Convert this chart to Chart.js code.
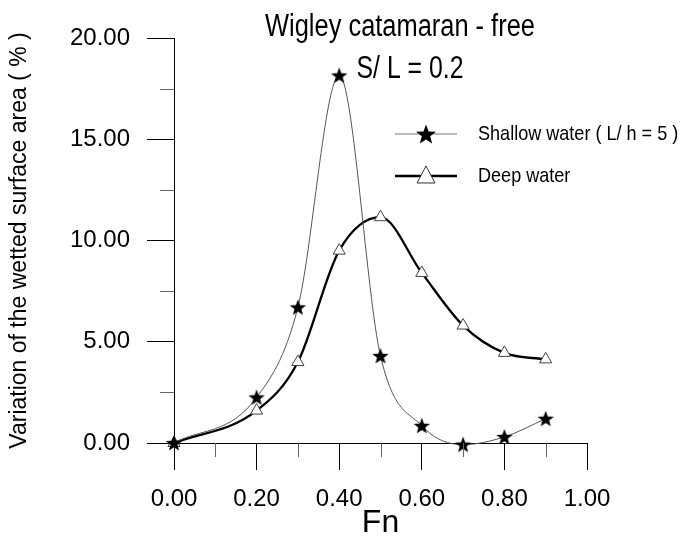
<!DOCTYPE html>
<html><head><meta charset="utf-8">
<script src="https://cdn.jsdelivr.net/npm/chart.js@4.4.1/dist/chart.umd.min.js"></script>
<style>html,body{margin:0;padding:0;background:#fff}#wrap{width:682px;height:542px}</style>
</head><body><div id="wrap"><canvas id="c" width="682" height="542"></canvas></div>
<script>
const fn = [0.0, 0.2, 0.3, 0.4, 0.5, 0.6, 0.7, 0.8, 0.9];
const shallowWater = [0.0, 2.25, 6.7, 18.15, 4.3, 0.85, -0.08, 0.3, 1.2];
const deepWater = [0.0, 1.6, 4.0, 9.5, 11.15, 8.4, 5.8, 4.45, 4.13];
const xTickLabels = ['0.00', '0.20', '0.40', '0.60', '0.80', '1.00'];
const yTickLabels = ['0.00', '5.00', '10.00', '15.00', '20.00'];
const seriesNames = ['Shallow water ( L/ h = 5 )', 'Deep water'];
const titleLines = ['Wigley catamaran - free', 'S/ L = 0.2'];
const xAxisTitle = 'Fn';
const yAxisTitle = 'Variation of the wetted surface area ( % )';

const FONT = "'Liberation Sans', Arial, sans-serif";

function starPath(ctx, cx, cy, ro, ri) {
  ctx.beginPath();
  for (let i = 0; i < 10; i++) {
    const r = i % 2 === 0 ? ro : ri;
    const a = -Math.PI / 2 + i * Math.PI / 5;
    const x = cx + r * Math.cos(a), y = cy + r * Math.sin(a);
    if (i === 0) ctx.moveTo(x, y); else ctx.lineTo(x, y);
  }
  ctx.closePath();
}
const starImg = document.createElement('canvas');
starImg.width = 18; starImg.height = 18;
(function(){ const g = starImg.getContext('2d'); g.fillStyle = '#000'; starPath(g, 9, 9.6, 8.6, 3.6); g.fill(); })();

function toXY(ys) { return fn.map((x, i) => ({x: x, y: ys[i]})); }

const overlay = {
  id: 'overlay',
  afterDraw(chart) {
    const ctx = chart.ctx;
    const xs = chart.scales.x, ys = chart.scales.y;
    ctx.save();
    // minor ticks
    ctx.strokeStyle = '#666'; ctx.lineWidth = 1;
    [0.1, 0.3, 0.5, 0.7, 0.9].forEach(v => {
      const px = Math.round(xs.getPixelForValue(v)) + 0.5;
      ctx.beginPath(); ctx.moveTo(px, ys.bottom); ctx.lineTo(px, ys.bottom + 14); ctx.stroke();
    });
    [2.5, 7.5, 12.5, 17.5].forEach(v => {
      const py = Math.round(ys.getPixelForValue(v)) + 0.5;
      ctx.beginPath(); ctx.moveTo(xs.left - 14, py); ctx.lineTo(xs.left, py); ctx.stroke();
    });
    // title
    ctx.fillStyle = '#000';
    ctx.textAlign = 'center'; ctx.textBaseline = 'alphabetic';
    ctx.font = '31px ' + FONT;
    ctx.save(); ctx.translate(400, 36); ctx.scale(0.82, 1); ctx.fillText(titleLines[0], 0, 0); ctx.restore();
    ctx.save(); ctx.translate(410, 78); ctx.scale(0.8, 1); ctx.fillText(titleLines[1], 0, 0); ctx.restore();
    // legend
    const ly = [134, 176];
    ctx.strokeStyle = '#777'; ctx.lineWidth = 1.2;
    ctx.beginPath(); ctx.moveTo(395, ly[0]); ctx.lineTo(457, ly[0]); ctx.stroke();
    ctx.fillStyle = '#000'; starPath(ctx, 426, ly[0] + 1, 10.5, 4.4); ctx.fill();
    ctx.strokeStyle = '#000'; ctx.lineWidth = 2.4;
    ctx.beginPath(); ctx.moveTo(395, ly[1]); ctx.lineTo(457, ly[1]); ctx.stroke();
    ctx.fillStyle = '#fff'; ctx.strokeStyle = '#333'; ctx.lineWidth = 1;
    ctx.beginPath(); ctx.moveTo(426, ly[1] - 10); ctx.lineTo(435, ly[1] + 7); ctx.lineTo(417, ly[1] + 7); ctx.closePath(); ctx.fill(); ctx.stroke();
    ctx.fillStyle = '#000'; ctx.textAlign = 'left'; ctx.textBaseline = 'middle';
    ctx.font = '21px ' + FONT;
    seriesNames.forEach((s, i) => { ctx.save(); ctx.translate(478, ly[i]); ctx.scale(0.86, 1); ctx.fillText(s, 0, 0); ctx.restore(); });
    ctx.restore();
  }
};

new Chart(document.getElementById('c'), {
  type: 'line',
  data: {
    datasets: [
      { label: seriesNames[0], data: toXY(shallowWater), borderColor: '#555', borderWidth: 1,
        cubicInterpolationMode: 'monotone', pointStyle: starImg, pointRadius: 9, clip: false, fill: false },
      { label: seriesNames[1], data: toXY(deepWater), borderColor: '#000', borderWidth: 2.3,
        cubicInterpolationMode: 'monotone', pointStyle: 'triangle', pointRadius: 7, pointBackgroundColor: '#fff',
        pointBorderColor: '#444', pointBorderWidth: 1, clip: false, fill: false }
    ]
  },
  options: {
    responsive: false, animation: false,
    layout: { padding: { top: 38, right: 95, left: 0, bottom: 0 } },
    plugins: { legend: { display: false }, title: { display: false }, tooltip: { enabled: false } },
    scales: {
      x: {
        type: 'linear', min: 0, max: 1,
        afterFit: s => { s.height = 99; },
        border: { display: true, color: '#000', width: 1 },
        grid: { display: true, drawOnChartArea: false, drawTicks: true, tickLength: 27,
          tickColor: c => (Math.round(c.tick.value * 10) % 2 === 0 ? '#000' : 'rgba(0,0,0,0)') },
        ticks: { stepSize: 0.1, autoSkip: false, maxRotation: 0, padding: 15, color: '#000',
          font: { family: FONT, size: 24 },
          callback: v => { const k = Math.round(v * 10); return k % 2 === 0 ? xTickLabels[k / 2] : ''; } },
        title: { display: true, text: xAxisTitle, color: '#000', font: { family: FONT, size: 32 }, padding: { top: 0, bottom: 0 } }
      },
      y: {
        type: 'linear', min: 0, max: 20,
        afterFit: s => { s.width = 174; },
        border: { display: true, color: '#000', width: 1 },
        grid: { display: true, drawOnChartArea: false, drawTicks: true, tickLength: 27,
          tickColor: c => (c.tick.value % 5 === 0 ? '#000' : 'rgba(0,0,0,0)') },
        ticks: { stepSize: 2.5, autoSkip: false, padding: 17, color: '#000',
          font: { family: FONT, size: 24 },
          callback: v => (v % 5 === 0 ? yTickLabels[v / 5] : '') },
        title: { display: true, text: yAxisTitle, color: '#000', font: { family: FONT, size: 23 }, padding: { top: 6, bottom: 0 } }
      }
    }
  },
  plugins: [overlay]
});
</script></body></html>
